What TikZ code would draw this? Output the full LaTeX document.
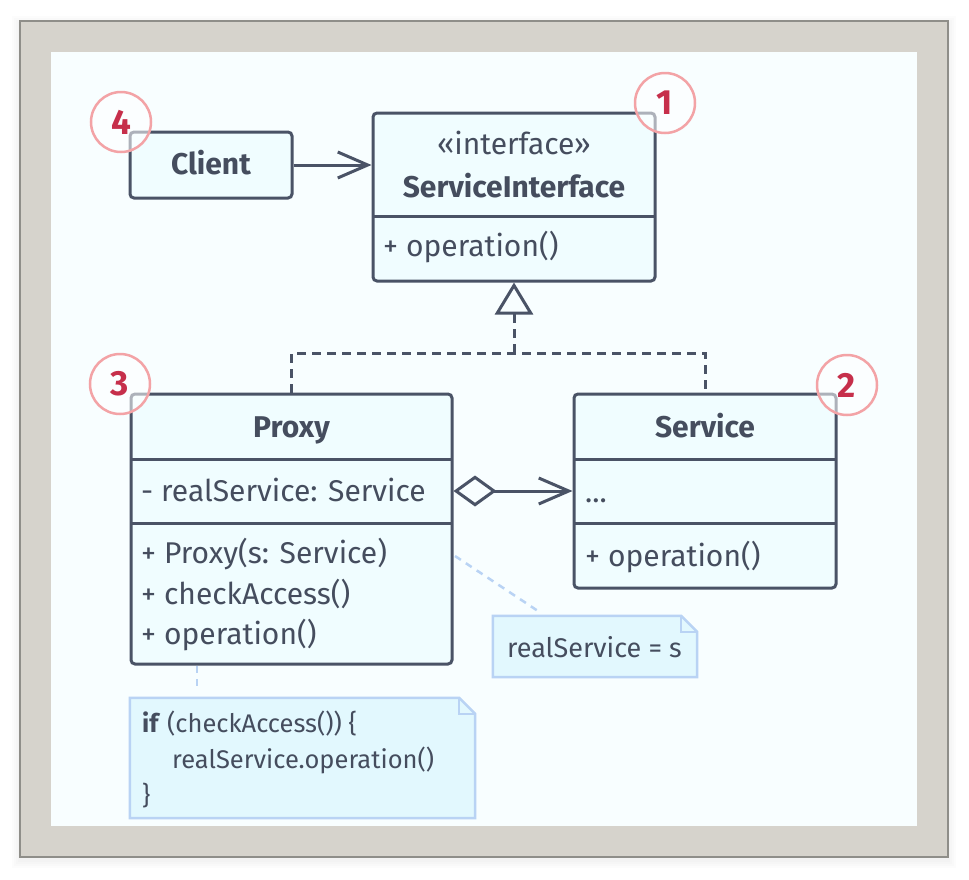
\documentclass[tikz,border=0pt]{standalone}
\usepackage{fontspec}
\setmainfont{Fira Sans}
\usetikzlibrary{arrows.meta}
\definecolor{ink}{HTML}{454D5E}
\definecolor{stroke}{HTML}{4A5366}
\definecolor{boxfill}{HTML}{F0FDFF}
\definecolor{canvas}{HTML}{F8FEFF}
\definecolor{framec}{HTML}{D6D3CC}
\definecolor{framel}{HTML}{8F8E89}
\definecolor{notefill}{HTML}{E2F8FE}
\definecolor{noteline}{HTML}{B9D3F4}
\definecolor{badgeline}{HTML}{F3A3A6}
\definecolor{badgenum}{HTML}{C62F4B}
\newcommand\myfs{\fontsize{30}{36}\selectfont}
\newcommand\mynotefs{\fontsize{27}{33}\selectfont}
\newcommand\mycodefs{\fontsize{25.5}{31}\selectfont}
\newcommand\mybadgefs{\fontsize{35}{35}\selectfont\bfseries}
\begin{document}
\begin{tikzpicture}[x=1pt,y=-1pt,
  umlbox/.style={draw=stroke, line width=3pt, fill=boxfill, rounded corners=4pt, inner sep=0pt},
  divider/.style={draw=stroke, line width=3pt},
  lbl/.style={text=ink, font=\myfs, inner sep=0pt, anchor=base west},
  notelbl/.style={text=ink, font=\mynotefs, inner sep=0pt, anchor=base west},
  codelbl/.style={text=ink, font=\mycodefs, inner sep=0pt, anchor=base west},
  ttl/.style={text=ink, font=\myfs\bfseries, inner sep=0pt, anchor=base},
  stereo/.style={text=ink, font=\myfs, inner sep=0pt, anchor=base},
  conn/.style={draw=stroke, line width=3pt},
  dashline/.style={draw=stroke, line width=3pt, dash pattern=on 9pt off 6pt},
  openhead/.style={-{Straight Barb[length=30pt,width=26pt]}},
  notebg/.style={inner sep=0pt, draw=none},
  noteoutline/.style={draw=noteline, fill=notefill, line width=2.5pt, line join=miter},
  notelink/.style={draw=noteline, line width=2.5pt, dash pattern=on 7pt off 6pt},
  badge/.style={circle, minimum size=60pt, inner sep=0pt, draw=badgeline, line width=2.5pt,
    fill=white, fill opacity=0.55, text opacity=1, text=badgenum, font=\mybadgefs}
]
\useasboundingbox (0,0) rectangle (969,879);
% frame with soft shadow
\foreach \s in {2,4,6,8} {
  \fill[black, opacity=0.01] ({20-\s},{21-\s+3}) rectangle ({948+\s},{857+\s+3});
}
\fill[framec] (20,21) rectangle (948,857);
\draw[framel, line width=1.5pt] (20,21) rectangle (948,857);
\fill[canvas] (51,52) rectangle (917,826);

% ---- classes ----
\node[umlbox, minimum width=162pt, minimum height=66pt] (client) at (211,165) {};
\node[ttl] (clientt) at (211,174) {Client};

\node[umlbox, minimum width=282pt, minimum height=168pt] (si) at (514,197) {};
\draw[divider] (373,216) -- (655,216);
\node[stereo] (sis) at (514,154) {«interface»};
\node[ttl] (sit) at (514,197) {ServiceInterface};
\node[lbl] (sim) at (383,256) {+ operation()};

\node[umlbox, minimum width=321pt, minimum height=270pt] (proxy) at (291.5,529) {};
\draw[divider] (131,459) -- (452,459);
\draw[divider] (131,523) -- (452,523);
\node[ttl] (proxyt) at (291.5,437) {Proxy};
\node[lbl] (proxyf) at (141,501) {- realService: Service};
\node[lbl] (proxym1) at (141,563) {+ Proxy(s: Service)};
\node[lbl] (proxym2) at (141,604) {+ checkAccess()};
\node[lbl] (proxym3) at (141,644) {+ operation()};

\node[umlbox, minimum width=262pt, minimum height=194pt] (service) at (705,491) {};
\draw[divider] (574,459) -- (836,459);
\draw[divider] (574,523) -- (836,523);
\node[ttl] (servicet) at (705,437) {Service};
\node[lbl] (servicef) at (585,502) {...};
\node[lbl] (servicem) at (585,566) {+ operation()};

% ---- connectors ----
\draw[conn, openhead] (client.east) -- (client.east -| si.west);

\coordinate (junc) at (514,353);
\draw[dashline] (proxy.north) |- (junc) -| (service.north);
\draw[dashline, -{Triangle[length=32pt,width=38pt,fill=canvas]}] (junc) -- (junc |- si.south);

\coordinate (fieldrow) at (0,491);
\draw[conn, {Diamond[length=43pt,width=31pt,fill=canvas]}-{Straight Barb[length=30pt,width=26pt]}]
  (proxy.east |- fieldrow) -- (service.west |- fieldrow);

% ---- notes ----
\node[notebg, minimum width=204pt, minimum height=61pt] (note1) at (595,646.5) {};
\draw[noteoutline] (note1.north west) -- ([xshift=-16pt]note1.north east) -- ([yshift=-16pt]note1.north east)
  -- (note1.south east) -- (note1.south west) -- cycle;
\draw[draw=noteline, line width=2.5pt] ([xshift=-16pt]note1.north east) -- ([xshift=-16pt,yshift=-16pt]note1.north east)
  -- ([yshift=-16pt]note1.north east);
\node[notelbl] (note1t) at (507,657) {realService = s};

\node[notebg, minimum width=345pt, minimum height=120pt] (note2) at (302.5,758) {};
\draw[noteoutline] (note2.north west) -- ([xshift=-16pt]note2.north east) -- ([yshift=-16pt]note2.north east)
  -- (note2.south east) -- (note2.south west) -- cycle;
\draw[draw=noteline, line width=2.5pt] ([xshift=-16pt]note2.north east) -- ([xshift=-16pt,yshift=-16pt]note2.north east)
  -- ([yshift=-16pt]note2.north east);
\node[codelbl] (note2a) at (142,732) {\textbf{if} (checkAccess()) \{};
\node[codelbl] (note2b) at (172,768) {realService.operation()};
\node[codelbl] (note2c) at (142,804) {\}};

\coordinate (link1a) at (455,556);
\coordinate (link1b) at (541,613);
\draw[notelink] (link1a) -- (link1b);
\coordinate (link2a) at (197,666);
\coordinate (link2b) at (197,690);
\draw[notelink] (link2a) -- (link2b);

% ---- badges ----
\node[badge] (b1) at (665,103) {1};
\node[badge] (b2) at (847,385) {2};
\node[badge] (b3) at (120,384) {3};
\node[badge] (b4) at (121,122) {4};
\end{tikzpicture}
\end{document}
